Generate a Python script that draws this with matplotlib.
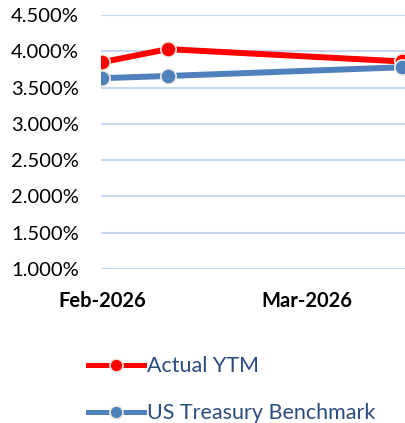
import matplotlib
matplotlib.use('Agg')
import matplotlib.pyplot as plt
import matplotlib.dates as mdates
import numpy as np
import pandas as pd

plt.rcParams['font.family'] = ['Lato', 'DejaVu Sans']

# Data
dates = pd.to_datetime(['2026-02-01', '2026-02-10', '2026-03-14'])
actual_ytm = [3.85, 4.03, 3.86]
treasury = [3.63, 3.66, 3.78]
series_labels = ['Actual YTM', 'US Treasury Benchmark']
tick_dates = pd.to_datetime(['2026-02-01', '2026-03-01'])

fig = plt.figure(figsize=(4.05, 4.23), dpi=100)
ax = fig.add_axes([0.249, 0.364, 0.751, 0.6005])

marker_edge = '#EEECE1'
ax.plot(dates, actual_ytm, color='#FF0000', lw=4.3, marker='o', ms=11,
        mec=marker_edge, mew=1.2, label=series_labels[0], zorder=3)
ax.plot(dates, treasury, color='#4F81BD', lw=4.3, marker='o', ms=11,
        mec=marker_edge, mew=1.2, label=series_labels[1], zorder=3)

ax.set_ylim(1.0, 4.5)
ax.set_yticks(np.arange(1.0, 4.51, 0.5))
ax.yaxis.set_major_formatter(plt.FuncFormatter(lambda v, p: f'{v:.3f}%'))
ax.set_xlim(dates[0] - pd.Timedelta(hours=4), dates[-1] + pd.Timedelta(hours=10))
ax.set_xticks(tick_dates)
ax.xaxis.set_major_formatter(mdates.DateFormatter('%b-%Y'))

ax.grid(axis='y', color='#C6D9F1', lw=1.5)
ax.set_axisbelow(True)
for s in ax.spines.values():
    s.set_visible(False)
ax.tick_params(axis='both', length=0, labelsize=14.5, colors='#000000')
ax.tick_params(axis='y', pad=16)
ax.tick_params(axis='x', pad=16)
for lbl in ax.get_xticklabels():
    lbl.set_fontweight('bold')

# legend: smaller markers than the plotted lines, as in the original
leg = fig.legend(loc='upper left', bbox_to_anchor=(0.195, 0.178), frameon=False,
                 fontsize=15.5, handlelength=2.6, handletextpad=0.15,
                 labelspacing=1.25, labelcolor='#2B4C7E', borderaxespad=0,
                 markerscale=0.85)
for h in leg.legend_handles:
    h.set_linewidth(3.6)

fig.savefig('out.png', dpi=100)
